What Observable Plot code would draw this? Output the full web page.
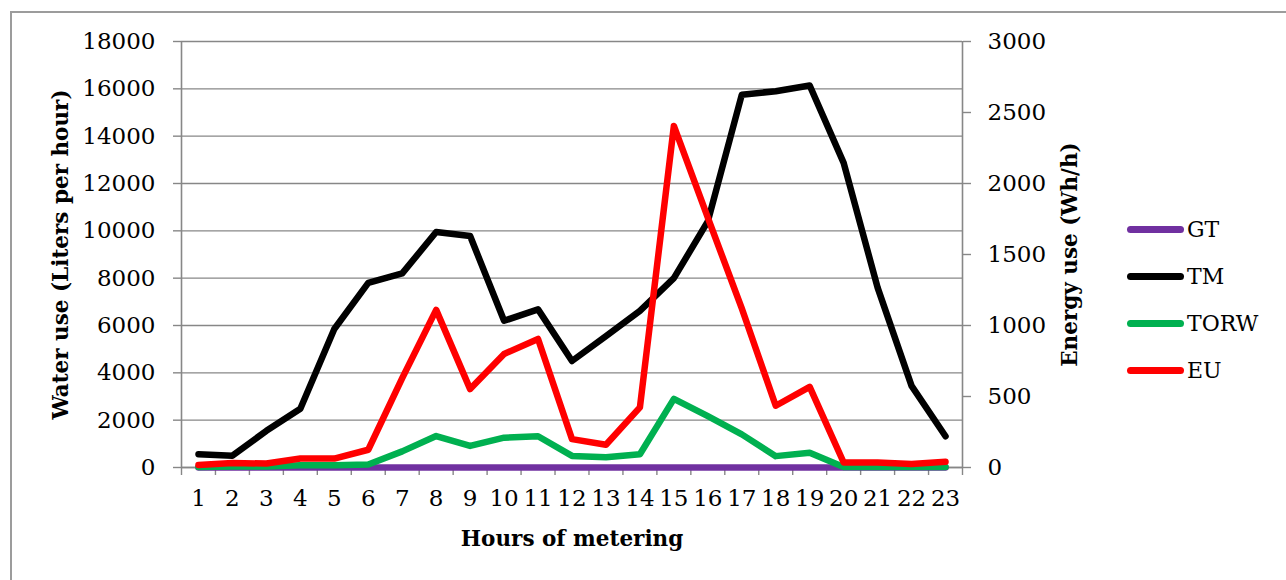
<!DOCTYPE html>
<html>
<head>
<meta charset="utf-8">
<script src="https://cdn.jsdelivr.net/npm/d3@7"></script>
<script src="https://cdn.jsdelivr.net/npm/@observablehq/plot@0.6"></script>
<style>
  html, body { margin: 0; padding: 0; background: #fff; overflow: hidden; }
  #wrap { position: relative; width: 1286px; height: 580px; overflow: hidden; font-family: "DejaVu Serif", serif; }
  #border { position: absolute; left: 10px; top: 11px; width: 1300px; height: 620px; border: 2px solid #9c9c9c; box-sizing: border-box; pointer-events: none; }
  #chart { position: absolute; left: 0; top: 0; }
  .leg { position: absolute; left: 1127px; height: 30px; display: flex; align-items: center; font-size: 22px; color: #000; }
  .leg .sw { width: 57px; height: 7px; border-radius: 4px; margin-right: 3px; }
</style>
</head>
<body>
<div id="wrap">
  <div id="border"></div>
  <div id="chart"></div>
  <div id="legend"></div>
</div>
<script>
// ---- data ----
const hours = [1,2,3,4,5,6,7,8,9,10,11,12,13,14,15,16,17,18,19,20,21,22,23];
const GT   = [0,0,0,0,0,0,0,0,0,0,0,0,0,0,0,0,0,0,0,0,0,0,0];
const TM   = [560,500,1550,2480,5850,7800,8200,9950,9780,6200,6680,4500,5550,6620,8000,10400,15750,15900,16140,12870,7600,3450,1320];
const TORW = [20,40,40,100,100,130,680,1330,910,1260,1320,490,430,560,2900,2170,1400,480,620,20,20,20,20];
const EU   = [17,31,28,63,63,125,630,1110,552,800,905,200,160,423,2405,1760,1120,435,568,35,35,24,40]; // Wh/h, right axis
const leftTicks  = [0,2000,4000,6000,8000,10000,12000,14000,16000,18000];
const rightTicks = [0,500,1000,1500,2000,2500,3000];
const leftMax = 18000, rightMax = 3000;
const seriesNames  = ["GT","TM","TORW","EU"];
const seriesColors = ["#7030A0","#000000","#00B050","#FF0000"];
const xTitle = "Hours of metering";
const yTitle = "Water use (Liters per hour)";
const y2Title = "Energy use (Wh/h)";

// ---- build table ----
const k = leftMax / rightMax; // secondary axis mapped onto primary scale
const rows = [];
hours.forEach((h, i) => {
  rows.push({hour: h, series: "GT",   v: GT[i]});
  rows.push({hour: h, series: "TM",   v: TM[i]});
  rows.push({hour: h, series: "TORW", v: TORW[i]});
  rows.push({hour: h, series: "EU",   v: EU[i] * k});
});
const xDomain = [hours[0] - 0.5, hours[hours.length - 1] + 0.5];
const bounds = hours.map(h => h - 0.5).concat([xDomain[1]]);
const gray = "#878787";

const lines = seriesNames.map((s, i) => Plot.lineY(rows.filter(r => r.series === s), {
  x: "hour", y: "v", stroke: seriesColors[i], strokeWidth: 6.5,
  strokeLinecap: "round", strokeLinejoin: "round"
}));

const chart = Plot.plot({
  width: 1286, height: 580,
  marginLeft: 181, marginRight: 324, marginTop: 41, marginBottom: 113,
  style: {fontFamily: "DejaVu Serif, serif", fontSize: "23px", color: "#000", background: "transparent"},
  x: {domain: xDomain},
  y: {domain: [0, leftMax]},
  marks: [
    Plot.gridY(leftTicks, {stroke: gray, strokeOpacity: 1, strokeWidth: 1.4}),
    Plot.ruleX(xDomain, {stroke: gray, strokeWidth: 1.6}),
    Plot.ruleY([0], {stroke: gray, strokeWidth: 1.6}),
    Plot.axisY(leftTicks, {anchor: "left", tickSize: 8, tickPadding: 18, stroke: gray, strokeWidth: 1.4, label: null, fontSize: 23, tickFormat: d => String(d)}),
    Plot.axisY(rightTicks.map(v => v * k), {anchor: "right", tickSize: 8, tickPadding: 17, stroke: gray, strokeWidth: 1.4, label: null, fontSize: 23, tickFormat: d => String(d / k)}),
    Plot.axisX(hours, {anchor: "bottom", tickSize: 0, tickPadding: 22, label: null, fontSize: 23, tickFormat: d => String(d)}),
    Plot.axisX(bounds, {anchor: "bottom", tickSize: 8, stroke: gray, strokeWidth: 1.4, label: null, tickFormat: () => ""}),
    ...lines,
    Plot.text([yTitle], {text: d => d, frameAnchor: "left", dx: -120, rotate: -90, textAnchor: "middle", lineAnchor: "middle", fontWeight: "bold", fontSize: 21.5}),
    Plot.text([y2Title], {text: d => d, frameAnchor: "right", dx: 108, rotate: -90, textAnchor: "middle", lineAnchor: "middle", fontWeight: "bold", fontSize: 21.5}),
    Plot.text([xTitle], {text: d => d, frameAnchor: "bottom", dy: 72, textAnchor: "middle", lineAnchor: "middle", fontWeight: "bold", fontSize: 21.5})
  ]
});
document.getElementById("chart").appendChild(chart);

// ---- legend ----
const legend = document.getElementById("legend");
seriesNames.forEach((s, i) => {
  const item = document.createElement("div");
  item.className = "leg";
  item.style.top = (214 + i * 47) + "px";
  const sw = document.createElement("span");
  sw.className = "sw";
  sw.style.background = seriesColors[i];
  const t = document.createElement("span");
  t.textContent = s;
  item.appendChild(sw); item.appendChild(t);
  legend.appendChild(item);
});
</script>
</body>
</html>
